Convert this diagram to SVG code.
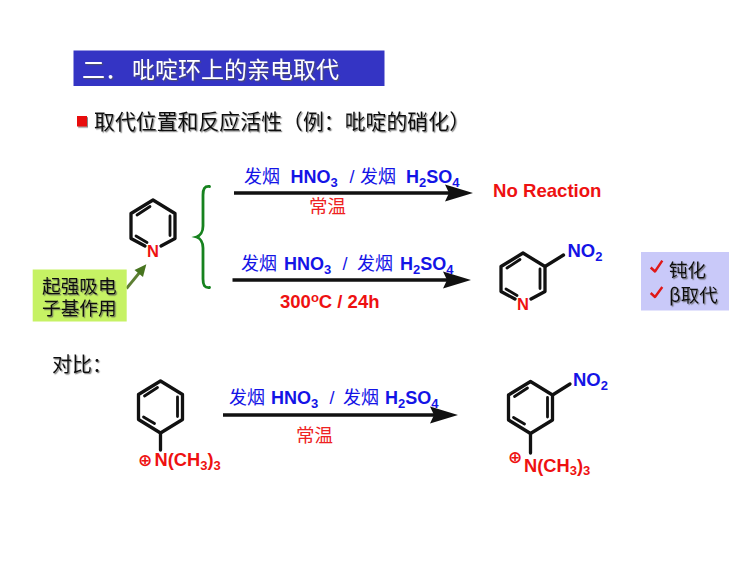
<svg xmlns="http://www.w3.org/2000/svg" width="750" height="562" viewBox="0 0 750 562">
<style>
text{font-family:"Liberation Sans","Noto Sans CJK SC",sans-serif}
.cjk{font-family:"Noto Sans CJK SC","Liberation Sans",sans-serif}
.shadow{filter:url(#sh)}
.black{fill:#111}
.blue{fill:#1414e6;font-size:18px;font-weight:700}
.blue .cjk{font-weight:400;font-size:18px}
.red{fill:#ee1111;font-size:18.300px;font-weight:700}
.redc{fill:#ee2222;font-size:18.500px;font-family:"Noto Sans CJK SC",sans-serif}
.sub{font-size:13px}
.plus{fill:#ee1111;font-size:17px;font-weight:700;font-family:"DejaVu Sans",sans-serif}
.bond{fill:none;stroke:#111;stroke-width:3.300;stroke-linecap:round;stroke-linejoin:round}
.inner{fill:none;stroke:#111;stroke-width:2.800;stroke-linecap:round}
.rx{fill:none;stroke:#111;stroke-width:3.400}
.check{fill:none;stroke:#e01818;stroke-width:2.400;stroke-linejoin:round}
</style>
<defs>
<filter id="sh" x="-5%" y="-20%" width="110%" height="140%"><feDropShadow dx="1.2" dy="1.2" stdDeviation="0.7" flood-color="#555" flood-opacity="0.7"/></filter>
<marker id="head" markerUnits="userSpaceOnUse" markerWidth="30" markerHeight="18" refX="4" refY="9" orient="auto" overflow="visible"><path d="M0 0.500L28 9L0 17.500L4 9Z" fill="#111"/></marker>
<marker id="ghead" markerUnits="userSpaceOnUse" markerWidth="14" markerHeight="12" refX="2" refY="6" orient="auto" overflow="visible"><path d="M0 0.500L12 6L0 11.500Z" fill="#47741f"/></marker>
<g id="pyr"><path class="bond" d="M-8 20L-22 12.500V-12.500L0-26L22-12.500V12.500L8 20"/><path class="inner" d="M-16-11L-3-19.500M17-10V9.500M-17 10L-6 16.500"/></g>
<g id="ben"><path class="bond" d="M0 26L-22 12.500V-12.500L0-26L22-12.500V12.500Z"/><path class="inner" d="M-16-11L-3-19.500M17-10V9.500M-17 10L-6 16.500"/></g>
</defs>
<rect width="750" height="562" fill="#fff"/>

<g id="title"><rect x="73.500" y="50.500" width="311" height="35.500" fill="#3434c4"/>
<text class="cjk shadow" y="77.500" font-size="23" fill="#fff"><tspan x="82">二．</tspan><tspan x="132">吡啶环上的亲电取代</tspan></text></g>
<g id="subtitle"><rect x="77" y="116" width="10" height="10.500" fill="#e81010" class="shadow"/>
<text class="cjk black shadow" x="94" y="129" font-size="20.900">取代位置和反应活性（例：吡啶的硝化）</text></g>

<g id="connectors">
<path d="M209.500 186.500C204.500 186 203 189 203 195V226C203 232 200 236 196.500 237C200 238 203 242 203 248V279C203 285 204.500 288 209.500 287.500" fill="none" stroke="#16821e" stroke-width="2.800" stroke-linecap="round"/>
<line class="rx" x1="234" y1="193" x2="449" y2="193" marker-end="url(#head)"/>
<line class="rx" x1="232.500" y1="280" x2="447" y2="280" marker-end="url(#head)"/>
<line class="rx" x1="223" y1="415" x2="434" y2="415" marker-end="url(#head)"/>
<line x1="126.500" y1="288.500" x2="140" y2="272" stroke="#5d7f33" stroke-width="2.800" marker-end="url(#ghead)"/>
</g>

<g id="pyridine"><use href="#pyr" x="153" y="226"/><text x="153" y="257" text-anchor="middle" class="red" style="font-size:16.500px">N</text></g>
<g id="callout"><rect x="32.700" y="269.500" width="94" height="52" fill="#c6f264"/>
<text class="cjk black shadow" font-size="18.700"><tspan x="42" y="293">起强吸电</tspan><tspan x="42" y="315">子基作用</tspan></text></g>

<g id="reagents1">
<text class="blue" y="183"><tspan class="cjk" x="244">发烟</tspan><tspan x="290.500">HNO</tspan><tspan class="sub" dy="3.500">3</tspan><tspan x="349.500" dy="-3.500" style="font-weight:400">/</tspan><tspan class="cjk" x="360">发烟</tspan><tspan x="406">H</tspan><tspan class="sub" dy="3.500">2</tspan><tspan dy="-3.500">SO</tspan><tspan class="sub" dy="3.500">4</tspan></text>
<text class="redc" x="309" y="213">常温</text></g>
<g id="no-reaction"><text class="red" x="493" y="197" style="font-size:18.600px">No Reaction</text></g>

<g id="reagents2">
<text class="blue" y="270"><tspan class="cjk" x="241">发烟</tspan><tspan x="284">HNO</tspan><tspan class="sub" dy="3.500">3</tspan><tspan x="342.500" dy="-3.500" style="font-weight:400">/</tspan><tspan class="cjk" x="357">发烟</tspan><tspan x="400">H</tspan><tspan class="sub" dy="3.500">2</tspan><tspan dy="-3.500">SO</tspan><tspan class="sub" dy="3.500">4</tspan></text>
<text class="red" x="280" y="308" style="font-size:18.500px">300<tspan class="sub" dy="-6">o</tspan><tspan dy="6">C / 24h</tspan></text></g>

<g id="nitropyridine"><use href="#pyr" x="523" y="279"/>
<line class="bond" x1="545" y1="266.500" x2="563.500" y2="255"/>
<text class="red" x="523" y="310" text-anchor="middle" style="font-size:16.500px">N</text>
<text class="blue" x="567.500" y="257" style="font-size:18.500px">NO<tspan class="sub" dy="3.500">2</tspan></text></g>

<g id="note"><rect x="641" y="252" width="88" height="58.500" fill="#c9c9f9"/>
<path class="check" d="M650.700 267.500L655 271.500L662.300 260.700M650.700 293L655 297L662.300 287"/>
<text class="cjk black shadow" font-size="18.500"><tspan x="669" y="276.500">钝化</tspan><tspan x="669" y="302">β取代</tspan></text></g>

<g id="compare"><text class="cjk black shadow" x="52" y="372" font-size="20">对比：</text></g>

<g id="anilinium"><use href="#ben" x="160.500" y="407"/>
<line class="bond" x1="160.500" y1="433" x2="160.500" y2="450"/>
<text class="plus" x="145" y="465.500" text-anchor="middle">⊕</text>
<text class="red" x="154.500" y="466">N(CH<tspan class="sub" dy="3.500">3</tspan><tspan dy="-3.500">)</tspan><tspan class="sub" dy="3.500">3</tspan></text></g>

<g id="reagents3">
<text class="blue" y="404"><tspan class="cjk" x="229">发烟</tspan><tspan x="271">HNO</tspan><tspan class="sub" dy="3.500">3</tspan><tspan x="329.500" dy="-3.500" style="font-weight:400">/</tspan><tspan class="cjk" x="343">发烟</tspan><tspan x="385">H</tspan><tspan class="sub" dy="3.500">2</tspan><tspan dy="-3.500">SO</tspan><tspan class="sub" dy="3.500">4</tspan></text>
<text class="redc" x="296" y="442">常温</text></g>

<g id="product"><use href="#ben" x="530.500" y="407.500"/>
<line class="bond" x1="552.500" y1="395" x2="570" y2="384"/>
<line class="bond" x1="530.500" y1="433.500" x2="530.500" y2="453"/>
<text class="blue" x="573" y="386" style="font-size:18.500px">NO<tspan class="sub" dy="3.500">2</tspan></text>
<text class="plus" x="515" y="462.800" text-anchor="middle">⊕</text>
<text class="red" x="524" y="471.500">N(CH<tspan class="sub" dy="3.500">3</tspan><tspan dy="-3.500">)</tspan><tspan class="sub" dy="3.500">3</tspan></text></g>
</svg>
